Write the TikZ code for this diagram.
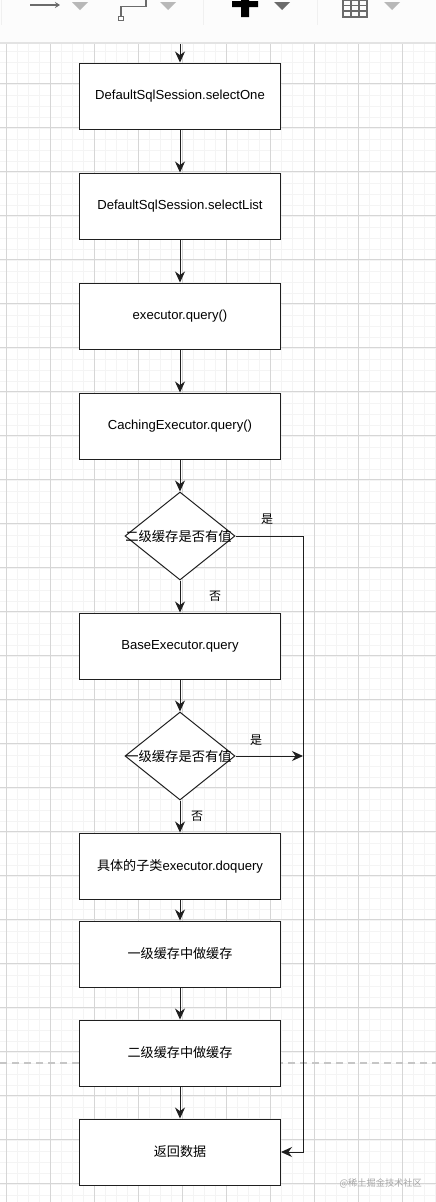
\documentclass[tikz,border=0pt]{standalone}
\usepackage{fontspec}
\setmainfont{Liberation Sans}
\newfontfamily\cjk{Noto Sans CJK SC}
\usetikzlibrary{arrows.meta,shapes.geometric}
\definecolor{gridminor}{gray}{0.955}
\definecolor{gridmajor}{gray}{0.84}
\definecolor{inkline}{gray}{0.12}
\definecolor{toolgray}{gray}{0.42}
\definecolor{toolarrow}{gray}{0.72}
\tikzset{
  flowbox/.style={draw=inkline,fill=white,line width=1pt,minimum width=201pt,minimum height=66pt,inner sep=0pt,font=\fontsize{13.1}{15}\selectfont,text=black},
  decision/.style={draw=inkline,fill=white,line width=1pt,diamond,aspect=1.25,minimum width=110pt,minimum height=88pt,inner sep=0pt},
  dtext/.style={font=\fontsize{13.3}{15}\selectfont\cjk,text=black,inner sep=0pt},
  flow/.style={draw=inkline,line width=1pt,-{Stealth[length=11pt,width=10pt]}},
  edgelabel/.style={font=\fontsize{12}{14}\selectfont\cjk,text=black,inner sep=0pt},
  toolicon/.style={draw=toolgray,line width=1.5pt},
  tooltri/.style={fill=toolarrow,draw=none}
}
\begin{document}
\begin{tikzpicture}[x=1pt,y=-1pt]
\useasboundingbox (0,0) rectangle (436,1202);
\fill[white] (0,0) rectangle (436,1202);
% grid
\foreach \i in {0,...,40}{\draw[gridminor,line width=0.8pt] ({\i*11-4.3},44) -- ({\i*11-4.3},1202);}
\foreach \i in {0,...,105}{\draw[gridminor,line width=0.8pt] (0,{51+\i*11}) -- (436,{51+\i*11});}
\foreach \i in {0,...,10}{\draw[gridmajor,line width=0.9pt] ({\i*44+6.7},44) -- ({\i*44+6.7},1202);}
\foreach \i in {0,...,26}{\draw[gridmajor,line width=0.9pt] (0,{84+\i*44-0.3}) -- (436,{84+\i*44-0.3});}
% page break
\draw[gray!45,line width=1.1pt,dash pattern=on 7pt off 5pt] (0,1063) -- (436,1063);
% toolbar
\fill[gray!2] (0,0) rectangle (436,42);
\draw[gray!22,line width=1.5pt] (0,43) -- (436,43);
\draw[gray!12,line width=0.9pt] (1,0) -- (1,25) (203,0) -- (203,25) (317,0) -- (317,25);
\draw[toolicon,-{Stealth[length=5pt,width=6pt]}] (30,5) -- (60,5);
\fill[tooltri] (72,2) -- (88,2) -- (80,10) -- cycle;
\draw[toolicon] (121,16) -- (121,6.5) -- (146,6.5) -- (146,0);
\draw[toolicon,line width=1.2pt,fill=white] (118.8,16.2) rectangle (123.2,20.6);
\fill[tooltri] (160,2) -- (176,2) -- (168,10) -- cycle;
\fill[black] (232,1) rectangle (258,7) (241,0) rectangle (249,17);
\fill[toolgray] (274,2) -- (290,2) -- (282,10) -- cycle;
\draw[toolgray,line width=1.5pt] (343,0) rectangle (367,17) (351,0) -- (351,17) (359,0) -- (359,17) (343,5.5) -- (367,5.5) (343,11) -- (367,11);
\fill[tooltri] (384,2) -- (400,2) -- (392,10) -- cycle;
% nodes
\coordinate (start) at (180,44);
\node[flowbox] (a) at (180,96) {DefaultSqlSession.selectOne};
\node[flowbox] (b) at (180,206) {DefaultSqlSession.selectList};
\node[flowbox] (c) at (180,316) {executor.query()};
\node[flowbox] (d) at (180,426) {CachingExecutor.query()};
\node[decision] (e) at (180,536) {};
\node[dtext] at (178.5,536) {二级缓存是否有值};
\node[flowbox] (f) at (180,646) {BaseExecutor.query};
\node[decision] (g) at (180,756) {};
\node[dtext] at (178.5,756) {一级缓存是否有值};
\node[flowbox] (h) at (180,866) {\cjk 具体的子类\rmfamily executor.doquery};
\node[flowbox,font=\fontsize{13.1}{15}\selectfont\cjk] (i) at (180,954) {一级缓存中做缓存};
\node[flowbox,font=\fontsize{13.1}{15}\selectfont\cjk] (j) at (180,1053) {二级缓存中做缓存};
\node[flowbox,font=\fontsize{13.1}{15}\selectfont\cjk] (k) at (180,1152) {返回数据};
\coordinate (vtop) at (303,536);
\coordinate (vmid) at (303,756);
\coordinate (vbot) at (303,1152);
% connectors
\draw[flow] (start) -- (a);
\draw[flow] (a) -- (b);
\draw[flow] (b) -- (c);
\draw[flow] (c) -- (d);
\draw[flow] (d) -- (e);
\draw[flow] (e) -- (f);
\draw[flow] (f) -- (g);
\draw[flow] (g) -- (h);
\draw[flow] (h) -- (i);
\draw[flow] (i) -- (j);
\draw[flow] (j) -- (k);
\draw[flow] (e.east) -- (vtop) -- (vbot) -- (k.east);
\draw[flow] (g.east) -- (vmid);
% labels
\node[edgelabel] at (267,519) {是};
\node[edgelabel] at (256,740) {是};
\node[edgelabel] at (215,596) {否};
\node[edgelabel] at (197,816) {否};
\node[font=\fontsize{9.2}{11}\selectfont\cjk,text=gray!70,inner sep=0pt,anchor=east] at (422,1183) {@稀土掘金技术社区};
\end{tikzpicture}
\end{document}
